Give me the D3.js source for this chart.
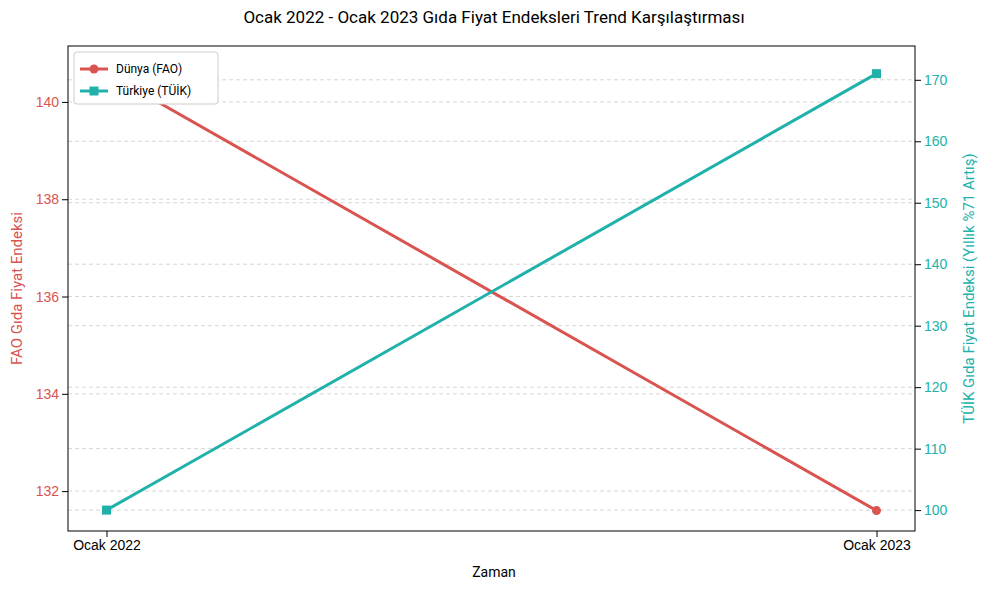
<!DOCTYPE html>
<html><head><meta charset="utf-8">
<script src="https://cdn.jsdelivr.net/npm/d3@7"></script>
<style>body{margin:0;background:#fff;font-family:Roboto,"Noto Sans",sans-serif}</style>
</head><body><svg id="c" width="989" height="589"></svg>
<script>
const categories=["Ocak 2022","Ocak 2023"];
const faoValues=[140.6,131.6];
const tuikValues=[100,171];
const leftTicks=[132,134,136,138,140];
const rightTicks=[100,110,120,130,140,150,160,170];
const red="#d9534f", teal="#20b2aa";
const svg=d3.select("#c");
const L=68,R=915,T=46,B=531;
const x=d3.scaleLinear().domain([-0.05,1.05]).range([L,R]);
const yL=d3.scaleLinear().domain([131.18,141.15]).range([B,T]);
const yR=d3.scaleLinear().domain([96.6,175.5]).range([B,T]);
const g=svg.append("g");
leftTicks.forEach(t=>g.append("line").attr("x1",L).attr("x2",R).attr("y1",yL(t)).attr("y2",yL(t)).attr("stroke","#ccc").attr("stroke-dasharray","4,3").attr("stroke-width",0.8));
rightTicks.forEach(t=>g.append("line").attr("x1",L).attr("x2",R).attr("y1",yR(t)).attr("y2",yR(t)).attr("stroke","#ccc").attr("stroke-dasharray","4,3").attr("stroke-width",0.8));
const ax=svg.append("g").attr("transform",`translate(0,${B})`).call(d3.axisBottom(x).tickValues([0,1]).tickFormat(i=>categories[i]).tickSizeOuter(0));
ax.selectAll("text").attr("font-size",14).attr("fill","#000");
const al=svg.append("g").attr("transform",`translate(${L},0)`).call(d3.axisLeft(yL).tickValues(leftTicks).tickSizeOuter(0));
al.selectAll("text").attr("font-size",14).attr("fill",red);
const ar=svg.append("g").attr("transform",`translate(${R},0)`).call(d3.axisRight(yR).tickValues(rightTicks).tickSizeOuter(0));
ar.selectAll("text").attr("font-size",14).attr("fill",teal);
svg.selectAll(".domain").remove();
svg.append("rect").attr("x",L).attr("y",T).attr("width",R-L).attr("height",B-T).attr("fill","none").attr("stroke","#000");
const lf=d3.line().x((d,i)=>x(i)).y(d=>yL(d));
const lt=d3.line().x((d,i)=>x(i)).y(d=>yR(d));
svg.append("path").attr("d",lf(faoValues)).attr("stroke",red).attr("stroke-width",3).attr("fill","none");
svg.append("path").attr("d",lt(tuikValues)).attr("stroke",teal).attr("stroke-width",3).attr("fill","none");
faoValues.forEach((v,i)=>svg.append("circle").attr("cx",x(i)).attr("cy",yL(v)).attr("r",4.5).attr("fill",red));
tuikValues.forEach((v,i)=>svg.append("rect").attr("x",x(i)-4.5).attr("y",yR(v)-4.5).attr("width",9).attr("height",9).attr("fill",teal));
svg.append("text").attr("x",494).attr("y",23).attr("text-anchor","middle").attr("font-size",17).text("Ocak 2022 - Ocak 2023 Gıda Fiyat Endeksleri Trend Karşılaştırması");
svg.append("text").attr("x",494).attr("y",577).attr("text-anchor","middle").attr("font-size",14).text("Zaman");
svg.append("text").attr("transform",`translate(22,${(T+B)/2}) rotate(-90)`).attr("text-anchor","middle").attr("font-size",15).attr("fill",red).text("FAO Gıda Fiyat Endeksi");
svg.append("text").attr("transform",`translate(974,${(T+B)/2}) rotate(-90)`).attr("text-anchor","middle").attr("font-size",15).attr("fill",teal).text("TÜİK Gıda Fiyat Endeksi (Yıllık %71 Artış)");
const lg=svg.append("g").attr("transform","translate(74,52)");
lg.append("rect").attr("width",144).attr("height",52).attr("fill","#fff").attr("stroke","#ccc").attr("rx",3);
[["Dünya (FAO)",red,"c"],["Türkiye (TÜİK)",teal,"s"]].forEach(([t,c,m],i)=>{
 const yy=17+i*22;
 lg.append("line").attr("x1",6).attr("x2",34).attr("y1",yy).attr("y2",yy).attr("stroke",c).attr("stroke-width",3);
 if(m=="c")lg.append("circle").attr("cx",20).attr("cy",yy).attr("r",4.5).attr("fill",c);
 else lg.append("rect").attr("x",15.5).attr("y",yy-4.5).attr("width",9).attr("height",9).attr("fill",c);
 lg.append("text").attr("x",42).attr("y",yy+4).attr("font-size",12).text(t);
});
</script></body></html>
